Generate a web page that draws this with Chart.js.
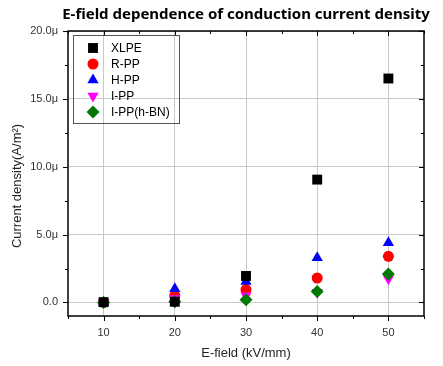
<!DOCTYPE html>
<html><head><meta charset="utf-8">
<script src="https://cdn.jsdelivr.net/npm/chart.js@4"></script>
<style>html,body{margin:0;padding:0;background:#fff}#wrap{width:443px;height:366px;position:relative}</style>
</head><body><div id="wrap"><canvas id="c" width="443" height="366"></canvas></div>
<script>
const fields = [10, 20, 30, 40, 50];
const seriesNames = ['XLPE', 'R-PP', 'H-PP', 'I-PP', 'I-PP(h-BN)'];
const xlpe  = [0.02, 0.05, 1.95, 9.05, 16.5];
const rpp   = [0.0, 0.5, 0.95, 1.8, 3.4];
const hpp   = [0.0, 1.0, 1.55, 3.3, 4.4];
const ipp   = [0.0, 0.3, 0.5, 0.75, 1.75];
const ippbn = [0.0, 0.05, 0.2, 0.8, 2.1];
const yTicks = [0, 5, 10, 15, 20];
const yTickLabels = ['0.0', '5.0μ', '10.0μ', '15.0μ', '20.0μ'];
const xTicks = [10, 20, 30, 40, 50];
const chartTitle = 'E-field dependence of conduction current density';
const xTitle = 'E-field (kV/mm)';
const yTitle = 'Current density(A/m²)';

const styles = [
  {color:'#000000', pointStyle:'rect', radius:7, rotation:0, order:0},
  {color:'#ff0000', pointStyle:'circle', radius:5.5, rotation:0, order:4},
  {color:'#0000ff', pointStyle:'triangle', radius:6.5, rotation:0, order:3},
  {color:'#ff00ff', pointStyle:'triangle', radius:6.5, rotation:180, order:2},
  {color:'#007a00', pointStyle:'rectRot', radius:6.5, rotation:0, order:1}
];
const seriesData = [xlpe, rpp, hpp, ipp, ippbn];

const datasets = seriesNames.map((n, i) => ({
  label: n,
  data: fields.map((x, j) => ({x: x, y: seriesData[i][j]})),
  showLine: false,
  pointStyle: styles[i].pointStyle,
  pointRadius: styles[i].radius,
  pointRotation: styles[i].rotation,
  backgroundColor: styles[i].color,
  borderColor: styles[i].color,
  borderWidth: 0,
  order: styles[i].order,
  clip: false
}));

const frame = {
  id: 'frame',
  afterDatasetsDraw(chart) {
    const {ctx, chartArea: a, scales} = chart;
    const x = scales.x, y = scales.y;
    ctx.save();
    ctx.strokeStyle = '#000';
    ctx.lineWidth = 1.5;
    ctx.strokeRect(a.left, a.top, a.right - a.left, a.bottom - a.top);
    ctx.lineWidth = 1;
    ctx.beginPath();
    for (let v = 5; v <= 55; v += 5) {
      const px = Math.round(x.getPixelForValue(v)) + 0.5;
      const len = (v % 10 === 0) ? 5 : 3;
      ctx.moveTo(px, a.bottom); ctx.lineTo(px, a.bottom + len);
      ctx.moveTo(px, a.top); ctx.lineTo(px, a.top + len);
    }
    for (let v = 0; v <= 20; v += 2.5) {
      const py = Math.round(y.getPixelForValue(v)) + 0.5;
      const len = (v % 5 === 0) ? 5 : 3;
      ctx.moveTo(a.left, py); ctx.lineTo(a.left - len, py);
      ctx.moveTo(a.right, py); ctx.lineTo(a.right - len, py);
    }
    ctx.stroke();
    ctx.restore();
  },
  afterDraw(chart) {
    const {ctx, chartArea: a} = chart;
    ctx.save();
    ctx.fillStyle = '#000';
    ctx.textAlign = 'center';
    ctx.textBaseline = 'middle';
    ctx.font = 'bold 15px "Noto Sans", sans-serif';
    ctx.fillText(chartTitle, (a.left + a.right) / 2, 15);
    ctx.fillStyle = '#222';
    ctx.font = '13px "Liberation Sans", Arial, sans-serif';
    ctx.fillText(xTitle, (a.left + a.right) / 2, 353);
    ctx.save();
    ctx.translate(17, 186);
    ctx.rotate(-Math.PI / 2);
    ctx.fillText(yTitle, 0, 0);
    ctx.restore();
    ctx.strokeStyle = '#555';
    ctx.lineWidth = 1;
    ctx.strokeRect(73.5, 35.5, 106, 88);
    ctx.font = '12px "Liberation Sans", Arial, sans-serif';
    ctx.textAlign = 'left';
    seriesNames.forEach((n, i) => {
      const cy = 48 + i * 16;
      ctx.fillStyle = styles[i].color;
      ctx.strokeStyle = styles[i].color;
      Chart.helpers.drawPoint(ctx, {pointStyle: styles[i].pointStyle, radius: styles[i].radius, rotation: styles[i].rotation, borderWidth: 0}, 93, cy);
      ctx.fillStyle = '#000';
      ctx.fillText(n, 111, cy + 1);
    });
    ctx.restore();
  }
};

new Chart(document.getElementById('c'), {
  type: 'scatter',
  data: {datasets},
  options: {
    responsive: false,
    animation: false,
    devicePixelRatio: 1,
    layout: {padding: {left: 0, right: 19, top: 31, bottom: 0}},
    plugins: {legend: {display: false}, tooltip: {enabled: false}, title: {display: false}},
    scales: {
      x: {
        type: 'linear', min: 5, max: 55,
        afterBuildTicks: s => { s.ticks = xTicks.map(v => ({value: v})); },
        afterFit: s => { s.height = 50; },
        grid: {color: '#c8c8c8', lineWidth: 1, drawTicks: false},
        border: {display: false},
        ticks: {padding: 10, color: '#333', font: {size: 11, family: '"Liberation Sans", Arial, sans-serif'}, maxRotation: 0}
      },
      y: {
        type: 'linear', min: -1, max: 20,
        afterBuildTicks: s => { s.ticks = yTicks.map(v => ({value: v})); },
        afterFit: s => { s.width = 68; },
        grid: {color: '#c8c8c8', lineWidth: 1, drawTicks: false},
        border: {display: false},
        ticks: {padding: 10, color: '#333', font: {size: 11, family: '"Liberation Sans", Arial, sans-serif'},
          callback: (v) => { const k = yTicks.indexOf(v); return k >= 0 ? yTickLabels[k] : ''; }}
      }
    }
  },
  plugins: [frame]
});
</script>
</body></html>
